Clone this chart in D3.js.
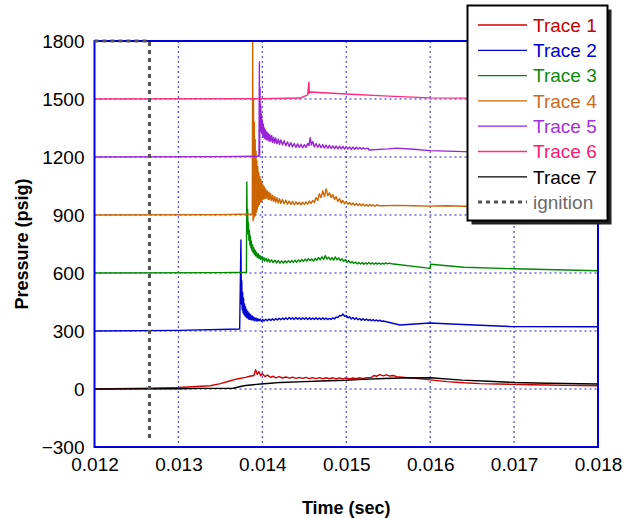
<!DOCTYPE html>
<html>
<head>
<meta charset="utf-8">
<script src="https://cdn.jsdelivr.net/npm/d3@7"></script>
<style>
  html, body { margin: 0; padding: 0; background: #fff; }
  svg { display: block; font-family: "Liberation Sans", Arial, Helvetica, sans-serif; }
</style>
</head>
<body>
<svg id="chart" width="630" height="518"></svg>
<script>
// Pressure traces (psig) vs time (s); each channel is drawn with its own offset baseline.
const trace1 = [
  [0.0120, 0], [0.01265, 4], [0.0130, 8], [0.01338, 17], [0.0135, 28], [0.0136, 40],
  [0.0137, 52], [0.0138, 60], [0.01385, 66], [0.0139, 70], [0.01392, 100], [0.01394, 75],
  [0.01396, 90], [0.01398, 68], [0.0140, 80], [0.01403, 64], [0.01406, 72], [0.0141, 60],
  [0.01413, 66], [0.01416, 58], [0.0142, 64], [0.01424, 57], [0.01428, 62], [0.01432, 56],
  [0.01436, 61], [0.0144, 55], [0.01444, 60], [0.01448, 55], [0.01452, 60], [0.01456, 54],
  [0.0146, 59], [0.01464, 54], [0.01468, 59], [0.01472, 53], [0.01476, 58], [0.0148, 53],
  [0.01484, 58], [0.01488, 52], [0.01492, 58], [0.01496, 52], [0.0150, 57], [0.01504, 52],
  [0.01508, 57], [0.01512, 53], [0.01516, 58], [0.0152, 54], [0.01525, 58], [0.0153, 60],
  [0.01533, 70], [0.01536, 66], [0.0154, 74], [0.01544, 68], [0.01548, 73], [0.01552, 67],
  [0.01556, 70], [0.0156, 64], [0.0157, 60], [0.0158, 56], [0.0160, 47], [0.0162, 38],
  [0.0164, 32], [0.0166, 28], [0.0168, 26], [0.0170, 24], [0.0172, 22], [0.0174, 21],
  [0.0176, 19], [0.0178, 18], [0.0180, 17]
];
const trace2 = [
  [0.0120, 300], [0.0130, 303], [0.01373, 310], [0.013745, 771], [0.01375, 440], [0.013755, 560],
  [0.01376, 410], [0.013765, 500], [0.01377, 395], [0.013776, 470], [0.013782, 385], [0.013788, 440],
  [0.013794, 378], [0.0138, 425], [0.013807, 372], [0.013814, 410], [0.013821, 368], [0.013828, 400],
  [0.013836, 362], [0.013844, 392], [0.013852, 360], [0.01386, 385], [0.01387, 358], [0.01388, 378],
  [0.01389, 355], [0.0139, 372], [0.013912, 352], [0.013924, 368], [0.013936, 351], [0.013948, 364],
  [0.01396, 352], [0.013975, 362], [0.01399, 350], [0.014005, 360], [0.01402, 352], [0.01404, 361],
  [0.01406, 353], [0.01408, 362], [0.0141, 354], [0.01412, 363], [0.01414, 355], [0.01416, 365],
  [0.01418, 357], [0.0142, 366], [0.01422, 358], [0.01424, 367], [0.01426, 359], [0.01428, 368],
  [0.0143, 360], [0.01432, 370], [0.01434, 361], [0.01436, 369], [0.01438, 360], [0.0144, 370],
  [0.01442, 361], [0.01444, 369], [0.01446, 360], [0.01448, 368], [0.0145, 361], [0.01452, 369],
  [0.01454, 360], [0.01456, 368], [0.01458, 359], [0.0146, 367], [0.01462, 360], [0.01464, 368],
  [0.01466, 359], [0.01468, 367], [0.0147, 360], [0.01472, 368], [0.01474, 360], [0.01476, 367],
  [0.01478, 359], [0.0148, 366], [0.01482, 360], [0.01484, 368], [0.01486, 362], [0.01488, 372],
  [0.0149, 370], [0.01492, 380], [0.01494, 378], [0.01496, 388], [0.01498, 376], [0.0150, 380],
  [0.01502, 368], [0.01504, 374], [0.01506, 362], [0.01508, 370], [0.0151, 360], [0.01512, 368],
  [0.01514, 358], [0.01516, 365], [0.01518, 356], [0.0152, 364], [0.01522, 355], [0.01524, 362],
  [0.01526, 354], [0.01528, 360], [0.0153, 353], [0.01532, 359], [0.01534, 352], [0.01536, 357],
  [0.01538, 351], [0.0154, 356], [0.01542, 350], [0.01544, 352], [0.01564, 331], [0.0160, 341],
  [0.01625, 336], [0.01695, 323], [0.0180, 322]
];
const trace3 = [
  [0.0120, 600], [0.0135, 602], [0.01381, 604], [0.013815, 1071], [0.01382, 850], [0.013825, 930],
  [0.01383, 800], [0.013835, 860], [0.01384, 770], [0.013846, 820], [0.013852, 745], [0.013858, 790],
  [0.013864, 730], [0.01387, 765], [0.013877, 715], [0.013884, 745], [0.013891, 705], [0.013898, 730],
  [0.013906, 695], [0.013914, 718], [0.013922, 688], [0.01393, 708], [0.01394, 680], [0.01395, 700],
  [0.01396, 675], [0.01397, 692], [0.013982, 670], [0.013994, 686], [0.014006, 665], [0.014018, 680],
  [0.01403, 662], [0.014045, 676], [0.01406, 658], [0.014075, 672], [0.01409, 656], [0.01411, 668],
  [0.01413, 654], [0.01415, 666], [0.01417, 652], [0.01419, 664], [0.01421, 651], [0.01423, 663],
  [0.01425, 652], [0.01427, 663], [0.01429, 653], [0.01431, 664], [0.01433, 654], [0.01435, 665],
  [0.01437, 655], [0.01439, 666], [0.01441, 656], [0.01443, 668], [0.01445, 658], [0.01447, 670],
  [0.01449, 660], [0.01451, 672], [0.01453, 662], [0.01455, 674], [0.01457, 664], [0.01459, 672],
  [0.01461, 662], [0.01463, 676], [0.01465, 666], [0.01467, 680], [0.01469, 668], [0.01471, 684],
  [0.01473, 670], [0.01475, 690], [0.01477, 672], [0.01479, 682], [0.01481, 668], [0.01483, 680],
  [0.01485, 666], [0.01487, 684], [0.01489, 668], [0.01491, 678], [0.01493, 664], [0.01495, 674],
  [0.01497, 660], [0.01499, 670], [0.01501, 656], [0.01503, 664], [0.01505, 652], [0.01507, 660],
  [0.01509, 649], [0.01511, 657], [0.01513, 647], [0.01515, 655], [0.01517, 646], [0.01519, 654],
  [0.01521, 645], [0.01523, 653], [0.01525, 646], [0.01527, 654], [0.01529, 646], [0.01531, 653],
  [0.01533, 645], [0.01535, 652], [0.01537, 646], [0.01539, 652], [0.01541, 645], [0.01543, 651],
  [0.01545, 646], [0.01547, 652], [0.01549, 647], [0.01551, 651], [0.01554, 648], [0.0160, 624],
  [0.016005, 645], [0.0164, 630], [0.0170, 622], [0.0180, 612]
];
const trace4 = [
  [0.0120, 900], [0.0135, 902], [0.01388, 905], [0.013885, 1800], [0.01389, 870], [0.013895, 1500],
  [0.0139, 885], [0.013905, 1380], [0.01391, 895], [0.013915, 1290], [0.01392, 900], [0.013925, 1230],
  [0.01393, 915], [0.013935, 1180], [0.01394, 930], [0.013946, 1150], [0.013952, 945], [0.013958, 1120],
  [0.013964, 955], [0.01397, 1100], [0.013976, 965], [0.013982, 1085], [0.013988, 970], [0.013994, 1070],
  [0.0140, 978], [0.014008, 1055], [0.014016, 982], [0.014024, 1045], [0.014032, 985], [0.01404, 1035],
  [0.01405, 988], [0.01406, 1025], [0.01407, 980], [0.01408, 1018], [0.01409, 978], [0.0141, 1010],
  [0.014112, 975], [0.014124, 1002], [0.014136, 970], [0.014148, 995], [0.01416, 966], [0.014175, 990],
  [0.01419, 962], [0.014205, 984], [0.01422, 960], [0.01424, 980], [0.01426, 958], [0.01428, 976],
  [0.0143, 956], [0.01432, 972], [0.01434, 955], [0.01436, 970], [0.01438, 954], [0.0144, 968],
  [0.01442, 955], [0.01444, 966], [0.01446, 953], [0.01448, 966], [0.0145, 955], [0.01452, 968],
  [0.01454, 956], [0.01456, 972], [0.01458, 960], [0.0146, 975], [0.01462, 965], [0.01464, 990],
  [0.01466, 975], [0.01468, 1010], [0.0147, 990], [0.01472, 1025], [0.01474, 995], [0.01476, 1035],
  [0.01478, 1000], [0.0148, 1015], [0.01482, 990], [0.01484, 1005], [0.01486, 980], [0.01488, 995],
  [0.0149, 970], [0.01492, 985], [0.01494, 962], [0.01496, 975], [0.01498, 958], [0.0150, 970],
  [0.01502, 955], [0.01504, 965], [0.01506, 952], [0.01508, 962], [0.0151, 950], [0.01512, 960],
  [0.01514, 949], [0.01516, 958], [0.01518, 948], [0.0152, 957], [0.01522, 947], [0.01524, 955],
  [0.01526, 946], [0.01528, 954], [0.0153, 946], [0.01532, 953], [0.01534, 945], [0.01536, 952],
  [0.0154, 948], [0.0156, 950], [0.0158, 948], [0.0160, 946], [0.0162, 948], [0.0165, 944],
  [0.0170, 942], [0.0180, 941]
];
const trace5 = [
  [0.0120, 1200], [0.0135, 1202], [0.01396, 1204], [0.013965, 1692], [0.013968, 1210], [0.013972, 1560],
  [0.013976, 1340], [0.01398, 1470], [0.013985, 1330], [0.01399, 1420], [0.013995, 1320], [0.0140, 1390],
  [0.014006, 1310], [0.014012, 1370], [0.014018, 1300], [0.014024, 1350], [0.01403, 1295], [0.014038, 1340],
  [0.014046, 1290], [0.014054, 1330], [0.014062, 1288], [0.01407, 1322], [0.01408, 1282], [0.01409, 1315],
  [0.0141, 1280], [0.014112, 1310], [0.014124, 1276], [0.014136, 1302], [0.014148, 1272], [0.01416, 1298],
  [0.014175, 1268], [0.01419, 1292], [0.014205, 1265], [0.01422, 1288], [0.01424, 1262], [0.01426, 1284],
  [0.01428, 1258], [0.0143, 1278], [0.01432, 1255], [0.01434, 1274], [0.01436, 1252], [0.01438, 1270],
  [0.0144, 1250], [0.01442, 1268], [0.01444, 1249], [0.01446, 1266], [0.01448, 1248], [0.0145, 1264],
  [0.01452, 1250], [0.01454, 1270], [0.014555, 1258], [0.01457, 1300], [0.014585, 1262], [0.0146, 1280],
  [0.01462, 1252], [0.01464, 1270], [0.01466, 1250], [0.01468, 1266], [0.0147, 1248], [0.01472, 1264],
  [0.01474, 1246], [0.01476, 1262], [0.01478, 1245], [0.0148, 1260], [0.01482, 1244], [0.01484, 1258],
  [0.01486, 1243], [0.01488, 1257], [0.0149, 1242], [0.01492, 1256], [0.01494, 1242], [0.01496, 1255],
  [0.01498, 1241], [0.0150, 1254], [0.01502, 1241], [0.01504, 1252], [0.01506, 1240], [0.01508, 1251],
  [0.0151, 1240], [0.01512, 1250], [0.01514, 1241], [0.01516, 1249], [0.01518, 1241], [0.0152, 1248],
  [0.01522, 1242], [0.01526, 1246], [0.01527, 1236], [0.0155, 1242], [0.0156, 1246], [0.0158, 1240],
  [0.0160, 1233], [0.0164, 1228], [0.0170, 1226], [0.0180, 1225]
];
const trace6 = [
  [0.0120, 1500], [0.0140, 1502], [0.01445, 1505], [0.01454, 1521], [0.014555, 1588], [0.01456, 1530],
  [0.01457, 1536], [0.0150, 1526], [0.0155, 1515], [0.0160, 1506], [0.0170, 1504], [0.0180, 1503]
];
const trace7 = [
  [0.0120, 0], [0.0130, 1], [0.01326, 3], [0.01365, 4], [0.01374, 13], [0.0138, 18], [0.01398, 26],
  [0.0141, 30], [0.01422, 34], [0.0145, 38], [0.0147, 41], [0.01499, 45], [0.0152, 50], [0.01545, 54],
  [0.01566, 57], [0.0160, 58], [0.01638, 46], [0.0167, 40], [0.0170, 34], [0.0174, 30], [0.0180, 26]
];
const ignition = [[0.0120, 1800], [0.012655, 1800], [0.012655, -255]];

const seriesNames = ["Trace 1", "Trace 2", "Trace 3", "Trace 4", "Trace 5", "Trace 6", "Trace 7", "ignition"];
const seriesData = [trace1, trace2, trace3, trace4, trace5, trace6, trace7, ignition];
const lineColors = ["#d00000", "#0000d0", "#008a00", "#cc6400", "#9a22d6", "#ff2a7a", "#000000", "#555555"];
const textColors = ["#c80000", "#0000d0", "#0a8a0a", "#cc6a1e", "#a030e0", "#ff1a70", "#000000", "#6a6a6a"];

const xTicks = [0.012, 0.013, 0.014, 0.015, 0.016, 0.017, 0.018];
const yTicks = [-300, 0, 300, 600, 900, 1200, 1500, 1800];

const svg = d3.select("#chart");
const plot = { left: 94.5, right: 598, top: 41, bottom: 447 };

const x = d3.scaleLinear().domain([0.012, 0.018]).range([plot.left, plot.right]);
const y = d3.scaleLinear().domain([-300, 1800]).range([plot.bottom, plot.top]);

svg.append("defs").append("clipPath").attr("id", "plotClip")
  .append("rect")
  .attr("x", plot.left).attr("y", plot.top - 1)
  .attr("width", plot.right - plot.left).attr("height", plot.bottom - plot.top + 1);

// grid
const grid = svg.append("g");
grid.selectAll("line.vg").data(xTicks.slice(1, -1)).join("line")
  .attr("x1", d => x(d)).attr("x2", d => x(d))
  .attr("y1", plot.top).attr("y2", plot.bottom)
  .attr("stroke", "#4a4aee").attr("stroke-width", 1.2).attr("stroke-dasharray", "2,3");
grid.selectAll("line.hg").data(yTicks.slice(1, -1)).join("line")
  .attr("y1", d => y(d)).attr("y2", d => y(d))
  .attr("x1", plot.left).attr("x2", plot.right)
  .attr("stroke", "#2020cc").attr("stroke-width", 1.2).attr("stroke-dasharray", "2,3");

// traces
const line = d3.line().x(d => x(d[0])).y(d => y(d[1]));
const traces = svg.append("g").attr("clip-path", "url(#plotClip)");
seriesData.slice(0, 7).forEach((data, i) => {
  traces.append("path")
    .datum(data)
    .attr("d", line)
    .attr("fill", "none")
    .attr("stroke", lineColors[i])
    .attr("stroke-width", 1.4)
    .attr("stroke-linejoin", "round");
});

// frame
svg.append("rect")
  .attr("x", plot.left).attr("y", plot.top)
  .attr("width", plot.right - plot.left).attr("height", plot.bottom - plot.top)
  .attr("fill", "none").attr("stroke", "#0000dd").attr("stroke-width", 2);

// ignition marker
svg.append("path")
  .datum(ignition)
  .attr("d", line)
  .attr("fill", "none")
  .attr("stroke", lineColors[7])
  .attr("stroke-width", 3)
  .attr("stroke-dasharray", "4,4");

// axes
const xAxis = svg.append("g")
  .attr("transform", `translate(0,${plot.bottom})`)
  .call(d3.axisBottom(x).tickValues(xTicks).tickFormat(d3.format(".3f")).tickSize(0).tickPadding(11));
const yAxis = svg.append("g")
  .attr("transform", `translate(${plot.left},0)`)
  .call(d3.axisLeft(y).tickValues(yTicks).tickFormat(d3.format("d")).tickSize(0).tickPadding(10));
[xAxis, yAxis].forEach(a => {
  a.select(".domain").remove();
  a.selectAll("text").attr("fill", "#000").style("font-size", "19px")
    .style("font-family", '"Liberation Sans", Arial, sans-serif');
});

// axis titles
svg.append("text")
  .attr("x", (plot.left + plot.right) / 2).attr("y", 514)
  .attr("text-anchor", "middle")
  .style("font-size", "18px").style("font-weight", "bold")
  .text("Time (sec)");
svg.append("text")
  .attr("transform", `translate(28,${(plot.top + plot.bottom) / 2}) rotate(-90)`)
  .attr("text-anchor", "middle")
  .style("font-size", "18px").style("font-weight", "bold")
  .text("Pressure (psig)");

// legend
const lg = svg.append("g");
const box = { x: 467.5, y: 5.5, w: 140, h: 215 };
lg.append("rect")
  .attr("x", box.x + 4).attr("y", box.y + 4).attr("width", box.w).attr("height", box.h)
  .attr("fill", "#222");
lg.append("rect")
  .attr("x", box.x).attr("y", box.y).attr("width", box.w).attr("height", box.h)
  .attr("fill", "#fff").attr("stroke", "#000").attr("stroke-width", 2);
seriesNames.forEach((name, i) => {
  const cy = 25 + i * 25.3;
  lg.append("line")
    .attr("x1", 478).attr("x2", 527).attr("y1", cy).attr("y2", cy)
    .attr("stroke", lineColors[i])
    .attr("stroke-width", i === 7 ? 3 : 1.3)
    .attr("stroke-dasharray", i === 7 ? "4,4" : null);
  lg.append("text")
    .attr("x", 533).attr("y", cy).attr("dy", "0.36em")
    .attr("fill", textColors[i])
    .style("font-size", "19px")
    .text(name);
});
</script>
</body>
</html>
